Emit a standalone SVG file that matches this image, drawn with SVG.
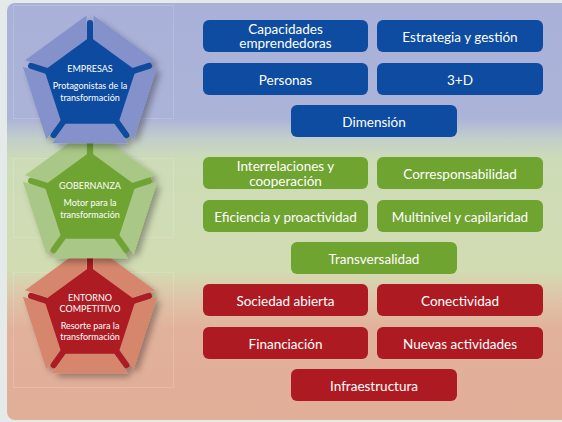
<svg xmlns="http://www.w3.org/2000/svg" xmlns:xlink="http://www.w3.org/1999/xlink" width="562" height="422" viewBox="0 0 562 422">
<style>
.t{font-family:Lato,"Liberation Sans",sans-serif;fill:#fff;text-anchor:middle}
.bt{font-size:13.5px}
.pt{font-size:9px}
.box{rx:6px;ry:6px}
.bl .box,.bl .core,.bl .sp{fill:#0d4ca0}
.gr .box,.gr .core,.gr .sp{fill:#70a431}
.rd .box,.rd .core,.rd .sp{fill:#ad1a22}
.bl .pc{fill:#8591cb}
.gr .pc{fill:#a9c887}
.rd .pc{fill:#d6866d}
.sp{stroke-width:6;stroke-linecap:round}
.bl .sp{stroke:#0d4ca0}
.gr .sp{stroke:#70a431}
.rd .sp{stroke:#ad1a22}
.fl{fill:none;stroke:#ffffff;stroke-opacity:0.15;stroke-width:1}
</style>
<defs>
<linearGradient id="bg" gradientUnits="userSpaceOnUse" x1="0" y1="0" x2="0" y2="422">
<stop offset="0" stop-color="#aab1d9"/>
<stop offset="0.28" stop-color="#acb3d8"/>
<stop offset="0.33" stop-color="#c3cfc9"/>
<stop offset="0.38" stop-color="#cddcb7"/>
<stop offset="0.64" stop-color="#d2dcb3"/>
<stop offset="0.71" stop-color="#dfc3a8"/>
<stop offset="0.78" stop-color="#e2b19b"/>
<stop offset="1" stop-color="#e1ae98"/>
</linearGradient>
<filter id="sh" x="-30%" y="-30%" width="160%" height="160%">
<feDropShadow dx="4" dy="4" stdDeviation="3" flood-color="#000" flood-opacity="0.32"/>
</filter>
<path id="pieces" d="M3.5,-69.46L64.97,-24.79L38.34,-16.14L3.5,-41.46Z M67.14,-18.13L43.66,54.13L27.2,31.48L40.51,-9.48Z M37.99,58.25L-37.99,58.25L-21.53,35.6L21.53,35.6Z M-43.66,54.13L-67.14,-18.13L-40.51,-9.48L-27.2,31.48Z M-64.97,-24.79L-3.5,-69.46L-3.5,-41.46L-38.34,-16.14Z"/>
<polygon id="core" points="0,-48 45.65,-14.83 28.21,38.83 -28.21,38.83 -45.65,-14.83"/>
<path id="spokes" d="M0,-44L0,-62 M41.85,-13.6L58.97,-19.16 M25.86,35.6L36.44,50.16 M-25.86,35.6L-36.44,50.16 M-41.85,-13.6L-58.97,-19.16"/>
</defs>
<rect x="0" y="0" width="562" height="422" fill="#e4e9e9"/>
<rect x="7" y="3" width="570" height="417" rx="8" fill="url(#bg)"/>
<rect class="fl" x="13.5" y="5.5" width="160" height="113"/>
<rect class="fl" x="13.5" y="158.5" width="160" height="79"/>
<rect class="fl" x="13.5" y="272.5" width="160" height="115"/>

<g id="entorno" class="rd">
<g transform="translate(90,315)" filter="url(#sh)">
<use xlink:href="#pieces" class="pc"/>
<use xlink:href="#spokes" class="sp"/>
<use xlink:href="#core" class="core"/>
</g>
<text class="t pt" x="90" y="301">ENTORNO</text>
<text class="t pt" x="90" y="312">COMPETITIVO</text>
<text class="t pt" x="90" y="329">Resorte para la</text>
<text class="t pt" x="90" y="340">transformación</text>
</g>

<g id="gobernanza" class="gr">
<g transform="translate(90,200)" filter="url(#sh)">
<use xlink:href="#pieces" class="pc"/>
<use xlink:href="#spokes" class="sp"/>
<use xlink:href="#core" class="core"/>
</g>
<text class="t pt" x="90" y="189">GOBERNANZA</text>
<text class="t pt" x="90" y="206">Motor para la</text>
<text class="t pt" x="90" y="218">transformación</text>
</g>

<g id="empresas" class="bl">
<g transform="translate(90,85)" filter="url(#sh)">
<use xlink:href="#pieces" class="pc"/>
<use xlink:href="#spokes" class="sp"/>
<use xlink:href="#core" class="core"/>
</g>
<text class="t pt" x="90" y="72">EMPRESAS</text>
<text class="t pt" x="90" y="89">Protagonistas de la</text>
<text class="t pt" x="90" y="101">transformación</text>
</g>

<g id="capacidades" class="bl"><rect class="box" x="203" y="20" width="165" height="32"/><text class="t bt" x="285.5" y="33.5">Capacidades</text><text class="t bt" x="285.5" y="48">emprendedoras</text></g>
<g id="estrategia" class="bl"><rect class="box" x="377" y="20" width="166" height="32"/><text class="t bt" x="460" y="41.5">Estrategia y gestión</text></g>
<g id="personas" class="bl"><rect class="box" x="203" y="63" width="165" height="32"/><text class="t bt" x="285.5" y="84.5">Personas</text></g>
<g id="tresd" class="bl"><rect class="box" x="377" y="63" width="166" height="32"/><text class="t bt" x="460" y="84.5">3+D</text></g>
<g id="dimension" class="bl"><rect class="box" x="291" y="105" width="166" height="32"/><text class="t bt" x="374" y="126.5">Dimensión</text></g>

<g id="interrelaciones" class="gr"><rect class="box" x="203" y="157" width="165" height="32"/><text class="t bt" x="285.5" y="171">Interrelaciones y</text><text class="t bt" x="285.5" y="185.5">cooperación</text></g>
<g id="corresponsabilidad" class="gr"><rect class="box" x="377" y="157" width="166" height="32"/><text class="t bt" x="460" y="178.5">Corresponsabilidad</text></g>
<g id="eficiencia" class="gr"><rect class="box" x="203" y="200" width="165" height="32"/><text class="t bt" x="285.5" y="221.5">Eficiencia y proactividad</text></g>
<g id="multinivel" class="gr"><rect class="box" x="377" y="200" width="166" height="32"/><text class="t bt" x="460" y="221.5">Multinivel y capilaridad</text></g>
<g id="transversalidad" class="gr"><rect class="box" x="291" y="242" width="166" height="32"/><text class="t bt" x="374" y="263.5">Transversalidad</text></g>

<g id="sociedad" class="rd"><rect class="box" x="203" y="284" width="165" height="32"/><text class="t bt" x="285.5" y="305.5">Sociedad abierta</text></g>
<g id="conectividad" class="rd"><rect class="box" x="377" y="284" width="166" height="32"/><text class="t bt" x="460" y="305.5">Conectividad</text></g>
<g id="financiacion" class="rd"><rect class="box" x="203" y="327" width="165" height="32"/><text class="t bt" x="285.5" y="348.5">Financiación</text></g>
<g id="nuevas" class="rd"><rect class="box" x="377" y="327" width="166" height="32"/><text class="t bt" x="460" y="348.5">Nuevas actividades</text></g>
<g id="infraestructura" class="rd"><rect class="box" x="291" y="369" width="166" height="32"/><text class="t bt" x="374" y="390.5">Infraestructura</text></g>
</svg>
